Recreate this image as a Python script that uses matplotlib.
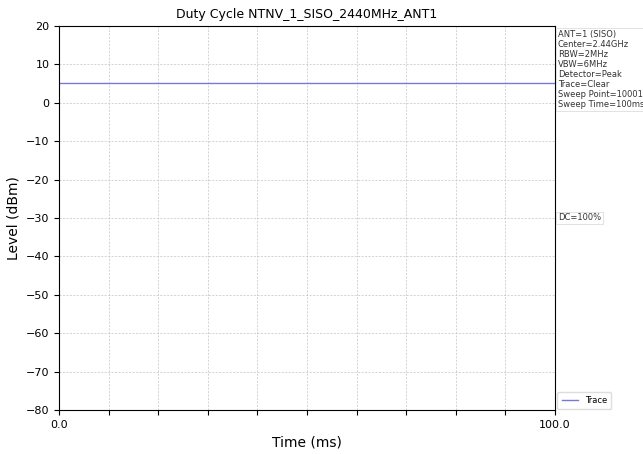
import numpy as np
import matplotlib
matplotlib.use("Agg")
import matplotlib.pyplot as plt

# Sweep settings and measured trace
title = "Duty Cycle NTNV_1_SISO_2440MHz_ANT1"
sweep_time_ms = 100.0
sweep_points = 10001
trace_level_dbm = 5.0
duty_cycle_pct = 100
info_lines = [
    "ANT=1 (SISO)",
    "Center=2.44GHz",
    "RBW=2MHz",
    "VBW=6MHz",
    "Detector=Peak",
    "Trace=Clear",
    "Sweep Point=10001",
    "Sweep Time=100ms",
]
y_limits = (-80, 20)
y_ticks = list(range(-80, 21, 10))
x_ticks = list(np.arange(0, 101, 10))

t = np.linspace(0, sweep_time_ms, sweep_points)
level = np.full_like(t, trace_level_dbm)

fig = plt.figure(figsize=(6.43, 4.54), dpi=100)
ax = fig.add_axes([0.092, 0.097, 0.771, 0.846])

ax.plot(t, level, color="#7878dc", lw=1.0, label="Trace")
ax.set_xlim(0, sweep_time_ms)
ax.set_ylim(*y_limits)
ax.set_yticks(y_ticks)
ax.set_xticks(x_ticks)
ax.set_xticklabels(["0.0"] + [""] * (len(x_ticks) - 2) + ["100.0"])
ax.tick_params(labelsize=8)
ax.grid(True, linestyle=(0, (3, 2)), color="#c4c4c4", linewidth=0.5)

ax.set_title(title, fontsize=9)
ax.set_xlabel("Time (ms)", fontsize=10)
ax.set_ylabel("Level (dBm)", fontsize=10)

box = dict(boxstyle="square,pad=0.2", facecolor="white", edgecolor="#dddddd", linewidth=0.6)
ax.text(1.006, 0.99, "\n".join(info_lines), transform=ax.transAxes,
        fontsize=6.0, va="top", ha="left", color="#333333", bbox=box, linespacing=1.15)
ax.text(1.006, 0.5, f"DC={duty_cycle_pct}%", transform=ax.transAxes,
        fontsize=6.0, va="center", ha="left", color="#333333", bbox=box)

ax.legend(loc="lower left", bbox_to_anchor=(1.0, -0.005), fontsize=6.0, frameon=True,
          handlelength=2.0, borderpad=0.5, framealpha=1, edgecolor="#dddddd",
          borderaxespad=0.3)

fig.savefig("out.png", dpi=100)
